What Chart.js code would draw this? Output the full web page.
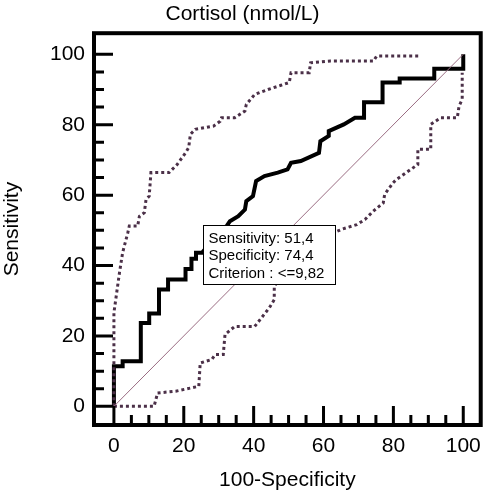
<!DOCTYPE html>
<html>
<head>
<meta charset="utf-8">
<script src="https://cdn.jsdelivr.net/npm/chart.js@4.4.0/dist/chart.umd.min.js"></script>
<style>
  body { margin: 0; background: #fff; }
  #wrap { width: 490px; height: 496px; }
</style>
</head>
<body>
<div id="wrap"><canvas id="rocChart" width="490" height="496"></canvas></div>
<script>
const chartTitle = 'Cortisol (nmol/L)';
const xTitle = '100-Specificity';
const yTitle = 'Sensitivity';
const tickLabels = [0, 20, 40, 60, 80, 100];

// ROC curve, x = 100-Specificity, y = Sensitivity
const rocX = [0, 0, 2.5, 2.5, 7.7, 7.7, 10.1, 10.1, 12.9, 12.9, 15.5, 15.5, 20.5, 20.5, 22.2, 22.2,
  23.5, 23.5, 25.2, 29, 32.4, 33.2, 35.6, 37.5, 37.9, 39.8, 40.7, 43.1, 46.9, 49.7, 50.7, 53.5,
  58.7, 59.1, 61.5, 61.5, 65.8, 69, 71.6, 71.6, 76.9, 76.9, 81.8, 81.8, 91.7, 91.7, 100, 100];
const rocY = [0, 11.4, 11.4, 12.8, 12.8, 23.7, 23.7, 26.4, 26.4, 33.2, 33.2, 36, 36, 39, 39, 41.9,
  41.9, 43.6, 43.6, 48, 51.4, 52.6, 54, 55.9, 58.3, 59.7, 64, 65.4, 66.4, 67.3, 69.2, 69.7,
  72, 75.3, 76.8, 78.2, 80.1, 82, 82, 86.4, 86.4, 92, 92, 93.1, 93.1, 95.9, 95.9, 100];

// upper 95% confidence bound
const upperX = [0, 0, 1.6, 2.5, 4, 4.4, 6.8, 7.3, 8.7, 9.2, 10.1, 10.6, 15.8, 18.1, 20.5, 21.4,
  21.9, 23.3, 28.5, 30.4, 30.8, 34.6, 37.5, 37.9, 40.3, 44.1, 47.8, 50.2, 50.7, 55.9, 56.3, 62,
  74.3, 75.2, 87.9];
const upperY = [0, 26.6, 38, 43.7, 49.4, 51.2, 51.2, 54, 55, 58.8, 59.7, 66.4, 66.4, 68.7, 72, 73.5,
  77.3, 78.7, 79.6, 81, 82, 82, 83.9, 85.8, 88.6, 90, 91.2, 92, 94.8, 94.8, 97.6, 98.1,
  98.1, 99.5, 99.5];

// lower 95% confidence bound
const lowerX = [0, 11.5, 12.5, 17.7, 24.3, 24.7, 28, 29, 31.3, 31.8, 34.6, 40.3, 42.2, 44.5, 45.9,
  45.9, 50, 58, 62.9, 65.5, 69.5, 71.9, 74.2, 77.1, 77.5, 79.9, 80.8, 87, 87, 90.7, 90.7, 93.6,
  98.3, 98.8, 99.7, 99.7];
const lowerY = [0, 0, 3.8, 4.3, 5.7, 12.3, 13.3, 14.7, 14.7, 20.4, 22.7, 22.7, 25.1, 28, 30.3,
  34.1, 40, 47, 49.3, 50.4, 51.6, 53.1, 55.4, 57.8, 60.2, 63.5, 64.4, 68.7, 73, 73, 80.1, 82,
  82, 85.3, 87.2, 94.8];

// reference diagonal
const refX = [0, 100];
const refY = [0, 100];

// optimal cut-off
const cutSensitivity = 51.4;
const cutSpecificity = 74.4;
const cutCriterion = '<=9,82';

const FONT = "'Liberation Sans', Arial, sans-serif";

function toPoints(xs, ys) {
    return xs.map((x, i) => ({ x: x, y: ys[i] }));
}

function comma(v) {
    return String(v).replace('.', ',');
}

// frame and inward tick marks
const framePlugin = {
    id: 'frame',
    afterDraw(chart) {
        const { ctx, chartArea: a, scales } = chart;
        ctx.save();
        ctx.strokeStyle = '#000';
        ctx.lineWidth = 3;
        ctx.beginPath();
        for (let v = 0; v <= 100; v += 5) {
            const len = v % 20 === 0 ? 19 : 10;
            const px = scales.x.getPixelForValue(v);
            ctx.moveTo(px, a.bottom);
            ctx.lineTo(px, a.bottom - len);
            const py = scales.y.getPixelForValue(v);
            ctx.moveTo(a.left, py);
            ctx.lineTo(a.left + len, py);
        }
        ctx.stroke();
        ctx.lineWidth = 4;
        ctx.strokeRect(a.left, a.top, a.right - a.left, a.bottom - a.top);
        ctx.restore();
    }
};

// info box, top-left corner at the cut-off point
const cutBoxPlugin = {
    id: 'cutBox',
    afterDatasetsDraw(chart) {
        const { ctx, scales } = chart;
        const left = Math.round(scales.x.getPixelForValue(100 - cutSpecificity)) + 0.5;
        const top = Math.round(scales.y.getPixelForValue(cutSensitivity)) + 0.5;
        const lines = [
            'Sensitivity: ' + comma(cutSensitivity),
            'Specificity: ' + comma(cutSpecificity),
            'Criterion : ' + cutCriterion
        ];
        ctx.save();
        ctx.fillStyle = '#fff';
        ctx.fillRect(left, top, 132, 59);
        ctx.strokeStyle = '#000';
        ctx.lineWidth = 1;
        ctx.strokeRect(left, top, 132, 59);
        ctx.fillStyle = '#000';
        ctx.font = '15px ' + FONT;
        ctx.textBaseline = 'middle';
        lines.forEach((t, i) => ctx.fillText(t, left + 5, top + 13 + i * 17.5));
        ctx.restore();
    }
};

const ctx = document.getElementById('rocChart');

new Chart(ctx, {
    type: 'line',
    data: {
        datasets: [
            {
                data: toPoints(refX, refY),
                borderColor: '#9a6c82',
                borderWidth: 1
            },
            {
                data: toPoints(upperX, upperY),
                borderColor: '#4b3048',
                borderWidth: 3,
                borderDash: [3, 3]
            },
            {
                data: toPoints(lowerX, lowerY),
                borderColor: '#4b3048',
                borderWidth: 3,
                borderDash: [3, 3]
            },
            {
                data: toPoints(rocX, rocY),
                borderColor: '#000',
                borderWidth: 4,
                borderJoinStyle: 'miter'
            }
        ]
    },
    options: {
        responsive: false,
        animation: false,
        parsing: false,
        elements: {
            point: { radius: 0 },
            line: { tension: 0, fill: false }
        },
        layout: { padding: { right: 5 } },
        plugins: {
            legend: { display: false },
            tooltip: { enabled: false },
            title: {
                display: true,
                text: chartTitle,
                color: '#000',
                font: { family: FONT, size: 21, weight: 'normal' },
                padding: { top: 2, bottom: 6 }
            }
        },
        scales: {
            x: {
                type: 'linear',
                min: -5.7,
                max: 105,
                afterFit: scale => { scale.height = 71; },
                afterBuildTicks: scale => { scale.ticks = tickLabels.map(v => ({ value: v })); },
                grid: { display: false, drawTicks: false },
                border: { display: false },
                ticks: { color: '#000', padding: 9, font: { family: FONT, size: 21 } },
                title: {
                    display: true,
                    text: xTitle,
                    color: '#000',
                    font: { family: FONT, size: 21 },
                    padding: { top: 0, bottom: 3 }
                }
            },
            y: {
                type: 'linear',
                min: -5.3,
                max: 106,
                afterFit: scale => { scale.width = 94; },
                afterBuildTicks: scale => { scale.ticks = tickLabels.map(v => ({ value: v })); },
                grid: { display: false, drawTicks: false },
                border: { display: false },
                ticks: { color: '#000', padding: 9, font: { family: FONT, size: 21 } },
                title: {
                    display: true,
                    text: yTitle,
                    color: '#000',
                    font: { family: FONT, size: 21 },
                    padding: { top: 0, bottom: 0 }
                }
            }
        }
    },
    plugins: [cutBoxPlugin, framePlugin]
});
</script>
</body>
</html>
